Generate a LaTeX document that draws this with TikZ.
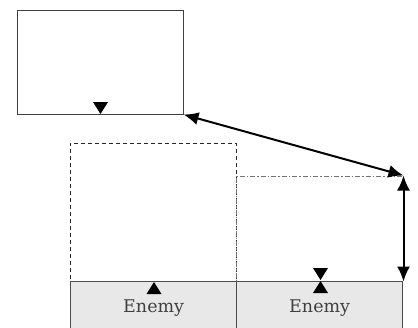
\documentclass[tikz,border=0pt]{standalone}
\usepackage{fontspec}
\newfontfamily\enemyfont{DejaVu Serif}
\usetikzlibrary{arrows.meta}
\begin{document}
\begin{tikzpicture}[x=1pt,y=-1pt,
  plainbox/.style={draw=black!75, line width=1pt, inner sep=0pt},
  ghostbox/.style={draw=black!85, line width=1pt, inner sep=0pt, dash pattern=on 4pt off 3pt},
  gapbox/.style={draw=black!55, line width=1pt, inner sep=0pt, dash pattern=on 5pt off 2pt on 1.5pt off 2pt},
  enemybox/.style={draw=black!70, fill=black!9, line width=1.3pt, inner sep=0pt,
    minimum width=166pt, minimum height=52pt, font=\enemyfont\fontsize{17.5}{20}\selectfont, text=black!75},
  dblarrow/.style={line width=2pt, {Latex[length=15pt,width=13pt]}-{Latex[length=15pt,width=13pt]}},
  tridown/.pic={\fill (0,0) -- (-7.5,-12) -- (7.5,-12) -- cycle;},
  triup/.pic={\fill (0,0) -- (-7.5,12) -- (7.5,12) -- cycle;}
]
\useasboundingbox (0,0) rectangle (418,327);
\clip (0,0) rectangle (418,327);
\node[plainbox, minimum width=166pt, minimum height=104pt] (top) at (100,62) {};
\node[ghostbox, minimum width=166pt, minimum height=138pt] (ghost) at (153,212) {};
\node[gapbox, minimum width=167pt, minimum height=105pt] (gap) at (319.5,228.5) {};
\node[enemybox, anchor=north west] (enemyL) at (70,281) {\raisebox{-2pt}{Enemy}};
\node[enemybox, anchor=north west] (enemyR) at (236,281) {\raisebox{-2pt}{Enemy}};
\pic at (100.5,114) {tridown};
\pic at (154,282) {triup};
\pic at (320.5,280) {tridown};
\pic at (320.5,281) {triup};
\draw[dblarrow] (top.south east) -- (gap.north east);
\draw[dblarrow] (gap.north east) -- (gap.south east);
\end{tikzpicture}
\end{document}
